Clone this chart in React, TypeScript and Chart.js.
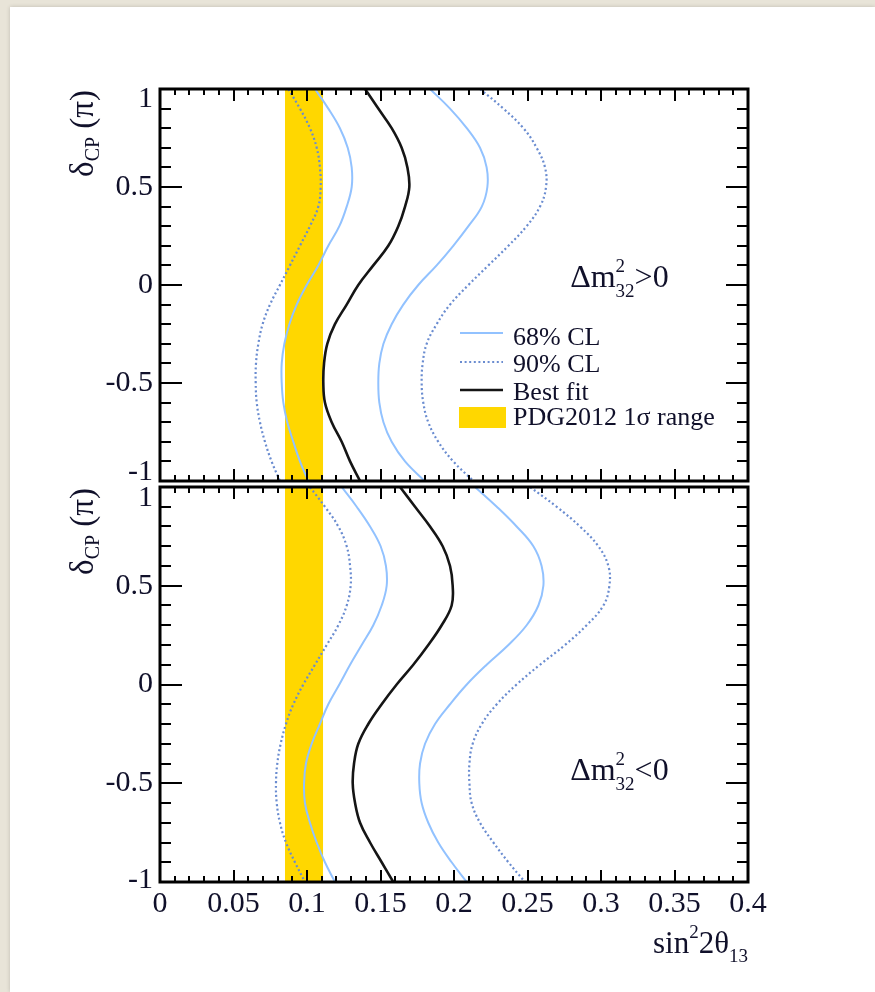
import React, { useEffect, useRef } from 'react';
import { Chart, registerables } from 'chart.js';
Chart.register(...registerables);

// ---------- data ----------
const deltaCP = [1, 0.9, 0.8, 0.7, 0.6, 0.5, 0.4, 0.3, 0.2, 0.1, 0, -0.1, -0.2, -0.3, -0.4, -0.5, -0.6, -0.7, -0.8, -0.9, -1];

// Δm²32 > 0 (upper panel)
const nhBest = [0.1395, 0.1485, 0.1576, 0.1644, 0.1683, 0.1696, 0.1667, 0.1621, 0.1553, 0.1451, 0.1349, 0.127, 0.119, 0.1138, 0.1116, 0.1111, 0.1122, 0.1168, 0.1236, 0.1293, 0.1361];
const nh68Left = [0.1054, 0.1145, 0.1224, 0.1277, 0.1304, 0.1304, 0.127, 0.122, 0.1145, 0.1077, 0.0998, 0.093, 0.088, 0.0846, 0.0828, 0.0828, 0.0839, 0.0866, 0.0907, 0.0952, 0.1009];
const nh90Left = [0.0873, 0.0952, 0.102, 0.1066, 0.1088, 0.1093, 0.1077, 0.102, 0.0952, 0.0884, 0.0816, 0.0748, 0.0698, 0.0669, 0.0653, 0.0651, 0.0658, 0.068, 0.0714, 0.0759, 0.0816];
const nh68Right = [0.1837, 0.1973, 0.2087, 0.2177, 0.2222, 0.2227, 0.2189, 0.2098, 0.1995, 0.1882, 0.1757, 0.1655, 0.1576, 0.152, 0.1492, 0.1485, 0.1492, 0.152, 0.1576, 0.1667, 0.18];
const nh90Right = [0.2177, 0.2336, 0.2472, 0.2562, 0.2619, 0.2626, 0.2585, 0.2494, 0.237, 0.2234, 0.2098, 0.1973, 0.1882, 0.1814, 0.1787, 0.178, 0.1791, 0.1825, 0.1893, 0.1995, 0.2132];

// Δm²32 < 0 (lower panel)
const ihBest = [0.1633, 0.1735, 0.1837, 0.1923, 0.1973, 0.1991, 0.1984, 0.1916, 0.1825, 0.1723, 0.161, 0.1508, 0.1417, 0.1349, 0.132, 0.1311, 0.1327, 0.1361, 0.1429, 0.1508, 0.1587];
const ih68Left = [0.1236, 0.1338, 0.1429, 0.1501, 0.1537, 0.1542, 0.1508, 0.1451, 0.1372, 0.1293, 0.122, 0.1145, 0.1088, 0.1032, 0.0993, 0.098, 0.0986, 0.102, 0.1066, 0.1122, 0.119];
const ih90Left = [0.102, 0.1122, 0.1213, 0.127, 0.1293, 0.1297, 0.127, 0.1213, 0.1134, 0.1054, 0.0975, 0.0907, 0.0857, 0.0821, 0.0798, 0.0789, 0.0794, 0.0816, 0.0857, 0.0918, 0.0986];
const ih68Right = [0.2143, 0.2291, 0.2426, 0.254, 0.2596, 0.2608, 0.2574, 0.2494, 0.237, 0.2222, 0.2087, 0.1973, 0.1871, 0.1803, 0.1769, 0.1764, 0.178, 0.1825, 0.1893, 0.1984, 0.2087];
const ih90Right = [0.2517, 0.2698, 0.2857, 0.2982, 0.305, 0.3057, 0.3016, 0.2902, 0.2755, 0.2585, 0.2426, 0.2291, 0.2189, 0.2127, 0.2105, 0.2105, 0.212, 0.2177, 0.2268, 0.237, 0.2483];

const pdgRange = [0.085, 0.111];

const xTickValues = [0, 0.05, 0.1, 0.15, 0.2, 0.25, 0.3, 0.35, 0.4];
const xTickLabels = ['0', '0.05', '0.1', '0.15', '0.2', '0.25', '0.3', '0.35', '0.4'];
const yTickValues = [-1, -0.5, 0, 0.5, 1];
const yTickLabels = ['-1', '-0.5', '0', '0.5', '1'];
const legendLabels = ['68% CL', '90% CL', 'Best fit', 'PDG2012 1σ range'];

// ---------- styles ----------
const FONT = "'Liberation Serif', 'Times New Roman', serif";
const TXT = '#10102a';
const BLUE68 = '#92c2ff';
const BLUE90 = '#6a8cd0';
const BLACK = '#151515';
const GOLD = '#ffd700';

type Part = { t: string; size: number; dy: number; stack?: boolean };

function measure(ctx: CanvasRenderingContext2D, t: string, size: number) {
  ctx.font = `${size}px ${FONT}`;
  return ctx.measureText(t).width;
}

// draws parts; a part with stack=true shares x with the previous part (sup/sub pair)
function drawRich(ctx: CanvasRenderingContext2D, x: number, y: number, parts: Part[], align: 'left' | 'right') {
  const groups: Part[][] = [];
  parts.forEach((p) => {
    if (p.stack && groups.length) groups[groups.length - 1].push(p);
    else groups.push([p]);
  });
  const widths = groups.map((g) => Math.max(...g.map((p) => measure(ctx, p.t, p.size))));
  const total = widths.reduce((a, b) => a + b, 0);
  let cx = align === 'left' ? x : x - total;
  ctx.textAlign = 'left';
  ctx.textBaseline = 'alphabetic';
  groups.forEach((g, i) => {
    g.forEach((p) => {
      ctx.font = `${p.size}px ${FONT}`;
      ctx.fillText(p.t, cx, y + p.dy);
    });
    cx += widths[i];
  });
}

const pts = (xs: number[]) => xs.map((x, i) => ({ x, y: deltaCP[i] }));

type PanelDef = {
  best: number[]; l68: number[]; r68: number[]; l90: number[]; r90: number[];
  showXAxis: boolean; legend: boolean;
  annotation: { x: number; y: number; sign: string };
  yLabelShift: [number, number];
  padding: { left: number; right: number; top: number; bottom: number };
};

const topPanel: PanelDef = {
  best: nhBest, l68: nh68Left, r68: nh68Right, l90: nh90Left, r90: nh90Right,
  showXAxis: false, legend: true,
  annotation: { x: 0.279, y: -0.01, sign: '>0' },
  yLabelShift: [10, -9],
  padding: { left: 160, right: 127, top: 89, bottom: 3 },
};

const bottomPanel: PanelDef = {
  best: ihBest, l68: ih68Left, r68: ih68Right, l90: ih90Left, r90: ih90Right,
  showXAxis: true, legend: false,
  annotation: { x: 0.279, y: -0.484, sign: '<0' },
  yLabelShift: [11, -2],
  padding: { left: 160, right: 127, top: 3, bottom: 0 },
};

function makePlugin(panel: PanelDef) {
  return {
    id: 'rootFrame',
    afterDraw(chart: any) {
      const { ctx, chartArea: a, scales } = chart;
      const xs = scales.x;
      const ys = scales.y;
      ctx.save();
      // inward ticks
      ctx.strokeStyle = '#000';
      ctx.lineWidth = 2;
      ctx.beginPath();
      for (let i = 0; i <= 40; i++) {
        const v = i * 0.01;
        const px = Math.round(xs.getPixelForValue(v));
        const len = i % 5 === 0 ? 12 : 6;
        ctx.moveTo(px, a.bottom); ctx.lineTo(px, a.bottom - len);
        ctx.moveTo(px, a.top); ctx.lineTo(px, a.top + len);
      }
      for (let i = 0; i <= 20; i++) {
        const v = -1 + i * 0.1;
        const py = Math.round(ys.getPixelForValue(v));
        const len = i % 5 === 0 ? 22 : 11;
        ctx.moveTo(a.left, py); ctx.lineTo(a.left + len, py);
        ctx.moveTo(a.right, py); ctx.lineTo(a.right - len, py);
      }
      ctx.stroke();
      // frame
      ctx.lineWidth = 3;
      ctx.strokeRect(a.left, a.top, a.right - a.left, a.bottom - a.top);

      // y tick labels
      ctx.fillStyle = TXT;
      ctx.font = `30px ${FONT}`;
      ctx.textAlign = 'right';
      ctx.textBaseline = 'middle';
      yTickValues.forEach((v, i) => {
        let py = ys.getPixelForValue(v);
        if (v === ys.max) py += panel.yLabelShift[0];
        if (v === ys.min) py += panel.yLabelShift[1];
        ctx.fillText(yTickLabels[i], a.left - 7, py);
      });

      // y title (rotated)
      ctx.save();
      ctx.translate(93, a.top + 1);
      ctx.rotate(-Math.PI / 2);
      drawRich(ctx, 0, 0, [
        { t: 'δ', size: 33, dy: 0 },
        { t: 'CP', size: 20, dy: 6 },
        { t: ' (π)', size: 33, dy: 0 },
      ], 'right');
      ctx.restore();

      // annotation Δm²32
      const ax = xs.getPixelForValue(panel.annotation.x);
      const ay = ys.getPixelForValue(panel.annotation.y);
      drawRich(ctx, ax, ay, [
        { t: 'Δm', size: 32, dy: 0 },
        { t: '2', size: 19, dy: -15 },
        { t: '32', size: 19, dy: 10, stack: true },
        { t: panel.annotation.sign, size: 32, dy: 0 },
      ], 'left');

      // legend
      if (panel.legend) {
        const ds = chart.data.datasets;
        const lx0 = a.left + 300;
        const lx1 = a.left + 343;
        const tx = a.left + 353;
        const rows = [
          { y: a.top + 244, ds: ds[0] },
          { y: a.top + 273, ds: ds[2] },
          { y: a.top + 301, ds: ds[4] },
        ];
        rows.forEach((r) => {
          ctx.beginPath();
          ctx.strokeStyle = r.ds.borderColor;
          ctx.lineWidth = r.ds.borderWidth;
          ctx.setLineDash(r.ds.borderDash || []);
          ctx.moveTo(lx0, r.y); ctx.lineTo(lx1, r.y);
          ctx.stroke();
        });
        ctx.setLineDash([]);
        ctx.fillStyle = ds[5].backgroundColor;
        ctx.fillRect(a.left + 299, a.top + 318, 47, 21);
        ctx.fillStyle = TXT;
        ctx.font = `26px ${FONT}`;
        ctx.textAlign = 'left';
        ctx.textBaseline = 'alphabetic';
        const bases = [256, 283, 311, 336];
        legendLabels.forEach((t, i) => ctx.fillText(t, tx, a.top + bases[i]));
      }

      // x title
      if (panel.showXAxis) {
        ctx.fillStyle = TXT;
        drawRich(ctx, a.right, a.bottom + 71, [
          { t: 'sin', size: 31, dy: 0 },
          { t: '2', size: 19, dy: -15 },
          { t: '2θ', size: 31, dy: 0 },
          { t: '13', size: 19, dy: 9 },
        ], 'right');
      }
      ctx.restore();
    },
  };
}

function buildConfig(panel: PanelDef): any {
  const line = (label: string, data: number[], color: string, width: number, dash?: number[]) => ({
    label,
    data: pts(data),
    borderColor: color,
    borderWidth: width,
    borderDash: dash || [],
    pointRadius: 0,
    tension: 0.4,
    fill: false,
  });
  return {
    type: 'line',
    data: {
      datasets: [
        line('68% CL', panel.l68, BLUE68, 2),
        line('68% CL (upper)', panel.r68, BLUE68, 2),
        line('90% CL', panel.l90, BLUE90, 2.2, [2, 2.6]),
        line('90% CL (upper)', panel.r90, BLUE90, 2.2, [2, 2.6]),
        line('Best fit', panel.best, BLACK, 2.6),
        {
          label: 'PDG2012 1σ range',
          data: pdgRange.map((x) => ({ x, y: 1 })),
          borderColor: 'rgba(0,0,0,0)',
          backgroundColor: GOLD,
          pointRadius: 0,
          tension: 0,
          fill: '+1',
        },
        {
          label: 'pdg-lower',
          data: pdgRange.map((x) => ({ x, y: -1 })),
          borderColor: 'rgba(0,0,0,0)',
          pointRadius: 0,
          tension: 0,
          fill: false,
        },
      ],
    },
    options: {
      animation: false,
      responsive: false,
      maintainAspectRatio: false,
      events: [],
      layout: { padding: panel.padding },
      scales: {
        x: {
          type: 'linear',
          min: 0,
          max: 0.4,
          display: panel.showXAxis,
          grid: { display: false, drawTicks: false },
          border: { display: false },
          afterFit: (s: any) => { s.height = panel.showXAxis ? 110 : 0; },
          afterBuildTicks: (s: any) => { s.ticks = xTickValues.map((v) => ({ value: v })); },
          ticks: {
            autoSkip: false,
            maxRotation: 0,
            padding: 4,
            color: TXT,
            font: { family: FONT, size: 30 },
            callback: (v: number) => {
              const i = xTickValues.findIndex((t) => Math.abs(t - v) < 1e-6);
              return i >= 0 ? xTickLabels[i] : '';
            },
          },
        },
        y: { type: 'linear', min: -1, max: 1, display: false },
      },
      plugins: {
        legend: { display: false },
        tooltip: { enabled: false },
        filler: { propagate: false },
      },
    },
    plugins: [makePlugin(panel)],
  };
}

export default function App() {
  const topRef = useRef<HTMLCanvasElement>(null);
  const botRef = useRef<HTMLCanvasElement>(null);
  useEffect(() => {
    const c1 = new Chart(topRef.current as HTMLCanvasElement, buildConfig(topPanel));
    const c2 = new Chart(botRef.current as HTMLCanvasElement, buildConfig(bottomPanel));
    return () => {
      c1.destroy();
      c2.destroy();
    };
  }, []);
  return (
    <div style={{ position: 'absolute', left: 0, top: 0, width: 875, height: 992, background: '#e8e4d8', overflow: 'hidden' }}>
      <div style={{ position: 'absolute', left: 10, top: 7, right: 0, bottom: 0, background: '#ffffff', boxShadow: '0 0 4px rgba(0,0,0,0.18)' }} />
      <canvas ref={topRef} width={875} height={484} style={{ position: 'absolute', left: 0, top: 0, width: 875, height: 484 }} />
      <canvas ref={botRef} width={875} height={508} style={{ position: 'absolute', left: 0, top: 484, width: 875, height: 508 }} />
    </div>
  );
}
